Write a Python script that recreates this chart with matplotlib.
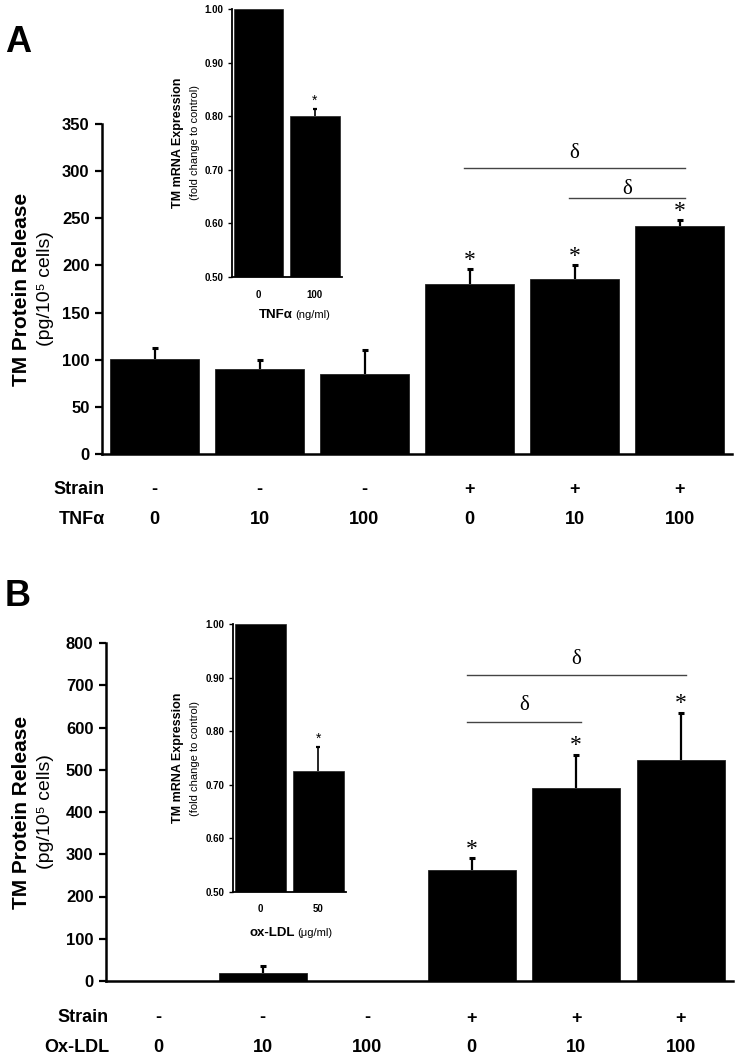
import matplotlib
matplotlib.use("Agg")
import matplotlib.pyplot as plt
import numpy as np
from matplotlib.transforms import blended_transform_factory

# ---- data ----
strain_labels = ["-", "-", "-", "+", "+", "+"]
dose_labels = ["0", "10", "100", "0", "10", "100"]

tnf_release = [101, 90, 85, 180, 186, 242]
tnf_release_err = [11, 10, 25, 16, 14, 6]
tnf_star = [False, False, False, True, True, True]

oxldl_release = [0, 20, 0, 263, 456, 523]
oxldl_release_err = [0, 16, 0, 27, 79, 112]
oxldl_star = [False, False, False, True, True, True]

tnf_inset_labels = ["0", "100"]
tnf_inset_vals = [1.00, 0.80]
tnf_inset_err = [0.0, 0.013]

ox_inset_labels = ["0", "50"]
ox_inset_vals = [1.00, 0.725]
ox_inset_err = [0.0, 0.045]

# significance brackets: (start bar, end bar, line height, delta height)
tnf_brackets = [(3, 5, 303, 319), (4, 5, 272, 281)]
ox_brackets = [(3, 5, 724, 760), (3, 4, 614, 653)]

W, H = 739, 1062
NARROW = ["Liberation Sans", "DejaVu Sans"]
SANS = ["Liberation Sans", "DejaVu Sans"]
SERIF = ["Liberation Serif", "DejaVu Serif"]

plt.rcParams["font.family"] = SANS

fig = plt.figure(figsize=(W / 100, H / 100), dpi=100)


def rect(x0, y0, x1, y1):
    # pixel box (top-left origin) -> figure fraction
    return [x0 / W, 1 - y1 / H, (x1 - x0) / W, (y1 - y0) / H]


def upper_err(ax, xi, v, e, lw, cap):
    # one-sided error bar: hide the lower cap that would sit on the bar top
    _, caps, _ = ax.errorbar(xi, v, yerr=[[0], [e]], fmt="none", ecolor="black",
                             elinewidth=lw, capsize=cap, capthick=cap, zorder=3)
    if len(caps) > 1:
        caps[0].set_visible(False)


def main_panel(box, vals, errs, stars, ymax, ystep, brackets, dose_name, row_y):
    ax = fig.add_axes(rect(*box))
    x = np.arange(len(vals))
    ax.bar(x, vals, width=0.84, color="black", edgecolor="#222222", linewidth=0.6, zorder=2)
    for xi, v, e in zip(x, vals, errs):
        if e > 0:
            upper_err(ax, xi, v, e, 1.6, 2.2)
    for xi, v, e, s in zip(x, vals, errs, stars):
        if s:
            ax.annotate("*", (xi, v + e), xytext=(0, -1), textcoords="offset points",
                        ha="center", va="bottom", fontsize=17, family=SERIF,
                        annotation_clip=False)
    for a, b, yl, yd in brackets:
        ax.plot([a - 0.05, b + 0.05], [yl, yl], color="#444444", lw=1.0,
                clip_on=False, zorder=4)
        ax.text((a + b) / 2, yd, "δ", ha="center", va="center", fontsize=15,
                family=SERIF, clip_on=False)
    ax.set_xlim(-0.5, len(vals) - 0.5)
    ax.set_ylim(0, ymax)
    ax.set_yticks(np.arange(0, ymax + 1, ystep))
    ax.set_xticks([])
    for lab in ax.get_yticklabels():
        lab.set_fontweight("bold")
        lab.set_fontsize(12)
        lab.set_family(NARROW)
    ax.tick_params(axis="y", direction="out", length=5, width=1.6, pad=4)
    for sp in ["top", "right"]:
        ax.spines[sp].set_visible(False)
    ax.spines["left"].set_linewidth(1.8)
    ax.spines["bottom"].set_linewidth(1.8)
    ax.set_facecolor("none")

    # condition rows under the axis
    tr = blended_transform_factory(ax.transData, fig.transFigure)
    xl = (box[0] + 3) / W
    fig.text(xl, 1 - row_y[0] / H, "Strain", ha="right", va="center", fontsize=13,
             fontweight="bold", family=NARROW)
    fig.text(xl, 1 - row_y[1] / H, dose_name, ha="right", va="center", fontsize=13,
             fontweight="bold", family=NARROW)
    for xi, s, d in zip(x, strain_labels, dose_labels):
        ax.text(xi, 1 - row_y[0] / H, s, transform=tr, ha="center", va="center",
                fontsize=13, fontweight="bold", family=NARROW)
        ax.text(xi, 1 - row_y[1] / H, d, transform=tr, ha="center", va="center",
                fontsize=13, fontweight="bold", family=NARROW)

    # y label (two lines, bold + regular)
    cy = 1 - (box[1] + box[3]) / 2 / H
    fig.text(22 / W, cy, "TM Protein Release", rotation=90, ha="center", va="center",
             fontsize=15, fontweight="bold", family=SANS)
    fig.text(46 / W, cy, "(pg/10⁵ cells)", rotation=90, ha="center", va="center",
             fontsize=14, family=SANS)
    return ax


def inset_panel(box, labels, vals, errs, bold_name, unit, xlab_y):
    ax = fig.add_axes(rect(*box))
    x = np.arange(len(vals))
    ax.bar(x, vals, width=0.88, color="black", edgecolor="#222222", linewidth=0.5, zorder=2)
    for xi, v, e in zip(x, vals, errs):
        if e > 0:
            upper_err(ax, xi, v, e, 1.2, 1.6)
            ax.annotate("*", (xi, v + e), xytext=(0, 1), textcoords="offset points",
                        ha="center", va="bottom", fontsize=10, family=SANS)
    ax.set_xlim(-0.47, len(vals) - 0.52)
    ax.set_ylim(0.5, 1.0)
    ax.set_yticks(np.arange(0.5, 1.01, 0.1))
    ax.set_yticklabels([f"{v:.2f}" for v in np.arange(0.5, 1.01, 0.1)])
    ax.set_xticks(x)
    ax.set_xticklabels(labels)
    for lab in ax.get_yticklabels() + ax.get_xticklabels():
        lab.set_fontweight("bold")
        lab.set_fontsize(7)
        lab.set_family(NARROW)
    ax.tick_params(axis="y", direction="out", length=3, width=1.0, pad=3)
    ax.tick_params(axis="x", length=0, pad=9)
    for sp in ["top", "right"]:
        ax.spines[sp].set_visible(False)
    ax.spines["left"].set_linewidth(1.3)
    ax.spines["bottom"].set_linewidth(1.3)
    ax.set_facecolor("white")

    cy = 1 - (box[1] + box[3]) / 2 / H
    fig.text(178 / W, cy, "TM mRNA Expression", rotation=90, ha="center", va="center",
             fontsize=9, fontweight="bold", family=SANS)
    fig.text(195 / W, cy, "(fold change to control)", rotation=90, ha="center",
             va="center", fontsize=8, family=SANS)
    cx = (box[0] + box[2]) / 2 / W
    fig.text(cx + 6 / W, 1 - xlab_y / H, bold_name, ha="right", va="center",
             fontsize=9.5, fontweight="bold", family=NARROW)
    fig.text(cx + 8 / W, 1 - xlab_y / H, unit, ha="left", va="center",
             fontsize=8, family=NARROW)
    return ax


# panel A
main_panel((102, 124, 732, 454), tnf_release, tnf_release_err, tnf_star, 350, 50,
           tnf_brackets, "TNFα", (490, 520))
inset_panel((232, 9, 342, 277), tnf_inset_labels, tnf_inset_vals, tnf_inset_err,
            "TNFα", "(ng/ml)", 315)

# panel B
main_panel((106, 643, 733, 981), oxldl_release, oxldl_release_err, oxldl_star, 800, 100,
           ox_brackets, "Ox-LDL", (1018, 1048))
inset_panel((233, 624, 346, 892), ox_inset_labels, ox_inset_vals, ox_inset_err,
            "ox-LDL", "(μg/ml)", 933)

fig.text(18 / W, 1 - 42 / H, "A", ha="center", va="center", fontsize=26, fontweight="bold")
fig.text(18 / W, 1 - 597 / H, "B", ha="center", va="center", fontsize=26, fontweight="bold")

fig.savefig("out.png", dpi=100)
